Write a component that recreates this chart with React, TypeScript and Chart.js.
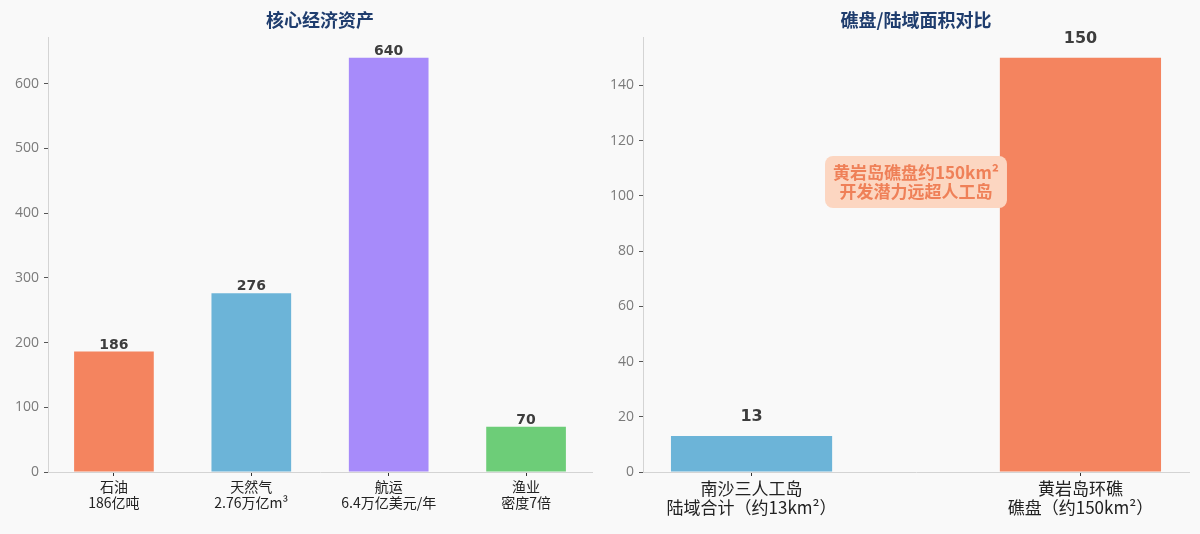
import React, { useEffect, useRef } from "react";
import { Chart, registerables } from "chart.js";

Chart.register(...registerables);

// ---------- data ----------
const assetTitle = "核心经济资产";
const assetCategories = [
  ["石油", "186亿吨"],
  ["天然气", "2.76万亿m³"],
  ["航运", "6.4万亿美元/年"],
  ["渔业", "密度7倍"],
];
const assetValues = [186, 276, 640, 70];
const assetColors = ["#f4845f", "#6cb4d8", "#a78bfa", "#6dcd78"];
const assetTicks = [0, 100, 200, 300, 400, 500, 600];

const areaTitle = "礁盘/陆域面积对比";
const areaCategories = [
  ["南沙三人工岛", "陆域合计（约13km²）"],
  ["黄岩岛环礁", "礁盘（约150km²）"],
];
const areaValues = [13, 150];
const areaColors = ["#6cb4d8", "#f4845f"];
const areaTicks = [0, 20, 40, 60, 80, 100, 120, 140];
const noteLines = ["黄岩岛礁盘约150km²", "开发潜力远超人工岛"];

const BG = "#f9f9f9";
const CJK = '"Noto Sans CJK SC", "Noto Sans", sans-serif';

type PanelOpts = {
  title: string;
  categories: string[][];
  values: number[];
  colors: string[];
  ticks: number[];
  yMax: number;
  xMin: number;
  xMax: number;
  barFrac: number;
  yAxisWidth: number;
  padRight: number;
  xLabelSize: number;
  xLineHeight: number;
  valueSize: number;
  valueGap: number;
  note?: { lines: string[]; x: number; y: number };
};

const overlayPlugin = {
  id: "overlay",
  afterDatasetsDraw(chart: any, _args: any, o: any) {
    const ctx = chart.ctx as CanvasRenderingContext2D;
    const area = chart.chartArea;
    const meta = chart.getDatasetMeta(0);
    ctx.save();
    // value labels
    ctx.fillStyle = "#3d3d3d";
    ctx.font = `bold ${o.valueSize}px "DejaVu Sans", sans-serif`;
    ctx.textAlign = "center";
    ctx.textBaseline = "alphabetic";
    meta.data.forEach((el: any, i: number) => {
      ctx.fillText(String(o.values[i]), el.x, el.y - o.valueGap);
    });
    // title
    ctx.fillStyle = "#1f3d6e";
    ctx.font = `bold 18px ${CJK}`;
    ctx.textBaseline = "middle";
    ctx.fillText(o.title, (area.left + area.right) / 2, 20);
    // note
    if (o.note) {
      const xs = chart.scales.x;
      const ys = chart.scales.y;
      const cx = xs.getPixelForValue(o.note.x);
      const cy = ys.getPixelForValue(o.note.y);
      ctx.font = `bold 17px ${CJK}`;
      const lh = 19;
      const w = Math.max(...o.note.lines.map((l: string) => ctx.measureText(l).width)) + 16;
      const h = lh * o.note.lines.length + 14;
      ctx.fillStyle = "#fcd6c1";
      ctx.beginPath();
      (ctx as any).roundRect(cx - w / 2, cy - h / 2, w, h, 8);
      ctx.fill();
      ctx.fillStyle = "#ef8058";
      o.note.lines.forEach((l: string, i: number) => {
        ctx.fillText(l, cx, cy - ((o.note.lines.length - 1) * lh) / 2 + i * lh);
      });
    }
    ctx.restore();
  },
};

function Panel({ p }: { p: PanelOpts }) {
  const ref = useRef<HTMLCanvasElement>(null);
  useEffect(() => {
    if (!ref.current) return;
    const xs = p.values.map((_, i) => i);
    const chart = new Chart(ref.current, {
      type: "bar",
      data: {
        datasets: [
          {
            data: p.values.map((v, i) => ({ x: i, y: v })),
            backgroundColor: p.colors,
            borderWidth: 0,
            barPercentage: p.barFrac,
            categoryPercentage: 1,
          },
        ],
      },
      options: {
        responsive: false,
        animation: false,
        devicePixelRatio: 1,
        layout: { padding: { top: 37, right: p.padRight, left: 0, bottom: 0 } },
        plugins: {
          legend: { display: false },
          tooltip: { enabled: false },
          title: { display: false },
          overlay: {
            title: p.title,
            values: p.values,
            valueSize: p.valueSize,
            valueGap: p.valueGap,
            note: p.note,
          },
        } as any,
        scales: {
          x: {
            type: "linear",
            offset: false,
            min: p.xMin,
            max: p.xMax,
            afterBuildTicks: (s: any) => {
              s.ticks = xs.map((v) => ({ value: v }));
            },
            afterFit: (s: any) => {
              s.height = 62;
            },
            grid: {
              display: true,
              offset: false,
              drawOnChartArea: false,
              drawTicks: true,
              tickLength: 4,
              tickColor: "#333",
              tickWidth: 1,
            },
            border: { display: true, color: "#d4d4d4", width: 1 },
            ticks: {
              autoSkip: false,
              maxRotation: 0,
              padding: 3,
              color: "#222",
              font: { family: CJK, size: p.xLabelSize, lineHeight: p.xLineHeight },
              callback: (_v: any, i: number) => p.categories[i],
            },
          },
          y: {
            type: "linear",
            min: 0,
            max: p.yMax,
            afterBuildTicks: (s: any) => {
              s.ticks = p.ticks.map((v) => ({ value: v }));
            },
            afterFit: (s: any) => {
              s.width = p.yAxisWidth;
            },
            grid: {
              display: true,
              drawOnChartArea: false,
              drawTicks: true,
              tickLength: 4,
              tickColor: "#555",
              tickWidth: 1,
            },
            border: { display: true, color: "#d4d4d4", width: 1 },
            ticks: {
              padding: 5,
              color: "#7a7a7a",
              font: { family: '"Open Sans", sans-serif', size: 14 },
            },
          },
        },
      },
      plugins: [overlayPlugin as any],
    });
    return () => chart.destroy();
  }, []);
  return <canvas ref={ref} width={600} height={534} style={{ width: 600, height: 534, display: "block" }} />;
}

const left: PanelOpts = {
  title: assetTitle,
  categories: assetCategories,
  values: assetValues,
  colors: assetColors,
  ticks: assetTicks,
  yMax: 672,
  xMin: -0.48,
  xMax: 3.48,
  barFrac: 0.58,
  yAxisWidth: 48,
  padRight: 8,
  xLabelSize: 14,
  xLineHeight: 1.15,
  valueSize: 14,
  valueGap: 3,
};

const right: PanelOpts = {
  title: areaTitle,
  categories: areaCategories,
  values: areaValues,
  colors: areaColors,
  ticks: areaTicks,
  yMax: 157.5,
  xMin: -0.33,
  xMax: 1.33,
  barFrac: 0.49,
  yAxisWidth: 43,
  padRight: 11,
  xLabelSize: 17,
  xLineHeight: 1.12,
  valueSize: 16,
  valueGap: 15,
  note: { lines: noteLines, x: 0.5, y: 105 },
};

export default function App() {
  return (
    <div
      style={{
        position: "fixed",
        left: 0,
        top: 0,
        width: 1200,
        height: 534,
        background: BG,
        display: "flex",
      }}
    >
      <Panel p={left} />
      <Panel p={right} />
    </div>
  );
}
